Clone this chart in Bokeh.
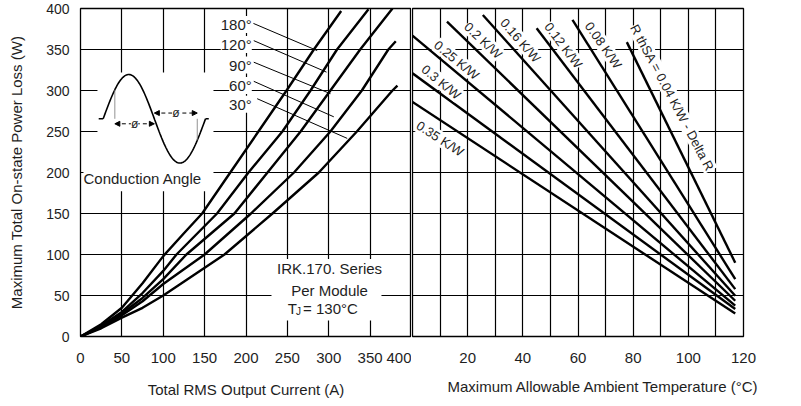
import numpy as np
from bokeh.plotting import figure
from bokeh.layouts import row
from bokeh.models import Range1d, FixedTicker, Label, Arrow, NormalHead, Title
from bokeh.embed import file_html
from bokeh.resources import INLINE

# ---------------- data: left panel (power loss vs RMS current) ----------------
current_ticks = [0, 50, 100, 150, 200, 250, 300, 350, 400]
power_ticks = [0, 50, 100, 150, 200, 250, 300, 350, 400]
angle_names = ["180°", "120°", "90°", "60°", "30°"]

I_180 = [0, 25, 50, 75, 100, 125, 147, 181, 215, 249, 282, 315]
P_180 = [0, 15, 35, 65, 98, 126, 150, 200, 250, 300, 350, 397]
I_120 = [0, 25, 50, 75, 100, 116, 165, 203, 244, 278, 310, 348]
P_120 = [0, 13, 30, 53, 80, 100, 150, 200, 250, 300, 350, 399]
I_90 = [0, 25, 50, 75, 100, 128, 186, 226, 266, 302, 338, 377]
P_90 = [0, 12, 28, 47, 70, 100, 150, 200, 250, 300, 350, 400]
I_60 = [0, 25, 50, 75, 100, 150, 206, 258, 302, 340, 372, 381]
P_60 = [0, 11, 26, 43, 64, 100, 150, 200, 250, 300, 350, 360]
I_30 = [0, 25, 50, 75, 100, 174, 232, 288, 334, 377, 383]
P_30 = [0, 10, 23, 35, 50, 100, 150, 200, 250, 300, 306]

# ---------------- data: right panel (power vs ambient temperature) ----------------
temp_ticks = [0, 20, 40, 60, 80, 100, 120]
rth_names = ["0.35 K/W", "0.3 K/W", "0.25 K/W", "0.2 K/W", "0.16 K/W",
             "0.12 K/W", "0.08 K/W", "R thSA = 0.04 K/W - Delta R"]
ta_start = [0, 0, 0, 12.5, 25.5, 45, 58, 77.7]
p_start = [286, 321, 367, 384, 392, 376, 386, 359]
ta_end = [117, 117, 117, 117, 117, 117, 117, 117]
p_end = [28, 33.5, 37.6, 43.6, 49.7, 57.8, 70, 90]

FONT = "Liberation Sans"
TXT = "#1e1e1e"
TOP, FH, BOT = 8, 328, 70


def style(p):
    p.outline_line_color = "black"
    p.outline_line_width = 1.3
    p.background_fill_color = "white"
    p.border_fill_color = "white"
    for g in p.xgrid + p.ygrid:
        g.grid_line_color = "black"
        g.grid_line_width = 1.2
        g.grid_line_alpha = 1.0
    for ax in p.xaxis + p.yaxis:
        ax.major_tick_line_color = None
        ax.minor_tick_line_color = None
        ax.axis_line_color = None
        ax.major_label_text_font = FONT
        ax.major_label_text_font_size = "15px"
        ax.major_label_text_color = TXT
        ax.axis_label_text_font = FONT
        ax.axis_label_text_font_size = "15px"
        ax.axis_label_text_font_style = "normal"
        ax.axis_label_text_color = TXT


# ================= left figure =================
left = figure(frame_width=331, frame_height=FH,
              x_range=Range1d(0, 400), y_range=Range1d(0, 400),
              output_backend="svg", toolbar_location=None,
              min_border_left=80, min_border_right=0,
              min_border_top=TOP, min_border_bottom=BOT)
left.xaxis.ticker = FixedTicker(ticks=current_ticks)
left.yaxis.ticker = FixedTicker(ticks=power_ticks)
left.xgrid.ticker = FixedTicker(ticks=current_ticks)
left.ygrid.ticker = FixedTicker(ticks=power_ticks)
style(left)
left.yaxis.major_label_text_font_size = "14px"
left.xaxis.axis_label = "Total RMS Output Current (A)"
left.yaxis.axis_label = "Maximum Total On-state Power Loss (W)"
left.xaxis.major_label_standoff = 10
left.xaxis.axis_label_standoff = 15
left.yaxis.major_label_standoff = 5
left.yaxis.axis_label_standoff = 18

# white backgrounds for inset and note box
left.quad(left=[20.5, 230.8], right=[160.7, 363.7], top=[322, 94.5], bottom=[177, 19.4],
          fill_color="white", line_color=None)

# curves
for xs, ys in [(I_180, P_180), (I_120, P_120), (I_90, P_90), (I_60, P_60), (I_30, P_30)]:
    left.line(xs, ys, line_color="black", line_width=2.4, line_join="round")

# leader lines for angle labels
left.segment(x0=[209, 209.4, 209.4, 209.4, 213.5], y0=[381.8, 360.8, 334.5, 311.2, 290],
             x1=[286, 297.3, 302.1, 306.1, 322.3], y1=[348.7, 322.4, 296.1, 267.9, 241.6],
             line_color="black", line_width=1)
for name, ly in zip(angle_names, [380.6, 356, 331, 306, 283.3]):
    left.add_layout(Label(x=207, y=ly, text=name, text_align="right", text_baseline="middle",
                          text_font=FONT, text_font_size="15px", text_color=TXT,
                          background_fill_color="white"))

# inset: conduction-angle waveform (schematic)
x0s, per, base, amp = 27.4, 123.7, 265.5, 54
xs = np.linspace(x0s, x0s + per, 120)
ys = base + amp * np.sin((xs - x0s) / per * 2 * np.pi)
left.line(xs, ys, line_color="black", line_width=1.6)
left.line([22, x0s], [base, base], line_color="black", line_width=1.6)
left.line([x0s + per, 155], [base, base], line_color="black", line_width=1.6)
fire1, fire2 = 41.5, 141.1
left.segment(x0=[fire1, fire2], y0=[base, base],
             x1=[fire1, fire2],
             y1=[base + amp * np.sin((fire1 - x0s) / per * 2 * np.pi),
                 base + amp * np.sin((fire2 - x0s) / per * 2 * np.pi)],
             line_color="#777777", line_width=0.8)
mid = x0s + per / 2
for (xa, xb, ya) in [(fire1, mid, 259.4), (mid, fire2, 272.5)]:
    left.add_layout(Arrow(start=NormalHead(size=5, fill_color="black", line_color="black"),
                          end=NormalHead(size=5, fill_color="black", line_color="black"),
                          x_start=xa, y_start=ya, x_end=xb, y_end=ya,
                          line_color="black", line_width=1, line_dash="4 3"))
    left.add_layout(Label(x=(xa + xb) / 2, y=ya, text="ø", text_align="center",
                          text_baseline="middle", text_font=FONT, text_font_size="12px",
                          text_color=TXT, background_fill_color="white"))
left.add_layout(Label(x=3.6, y=192.7, text="Conduction Angle", text_align="left",
                      text_baseline="middle", text_font=FONT, text_font_size="15px",
                      text_color=TXT, background_fill_color="white"))

# note box
for t, ly in [("IRK.170. Series", 82.4), ("Per Module", 55.8)]:
    left.add_layout(Label(x=301, y=ly, text=t, text_align="center", text_baseline="middle",
                          text_font=FONT, text_font_size="15px", text_color=TXT))
left.add_layout(Label(x=250.5, y=34, text="T", text_align="left", text_baseline="middle",
                      text_font=FONT, text_font_size="15px", text_color=TXT))
left.add_layout(Label(x=260.5, y=30, text="J", text_align="left", text_baseline="middle",
                      text_font=FONT, text_font_size="10px", text_color=TXT))
left.add_layout(Label(x=269, y=34, text="= 130°C", text_align="left", text_baseline="middle",
                      text_font=FONT, text_font_size="15px", text_color=TXT))

# ================= right figure =================
right = figure(frame_width=331, frame_height=FH,
               x_range=Range1d(0, 120), y_range=Range1d(0, 400),
               output_backend="svg", toolbar_location=None, y_axis_location=None,
               min_border_left=1, min_border_right=58,
               min_border_top=TOP, min_border_bottom=BOT)
minor_t = [t + 10 for t in temp_ticks[:-1]]
right.xaxis.ticker = FixedTicker(ticks=temp_ticks, minor_ticks=minor_t)
right.xgrid.ticker = FixedTicker(ticks=temp_ticks, minor_ticks=minor_t)
right.ygrid.ticker = FixedTicker(ticks=power_ticks)
style(right)
right.xgrid.minor_grid_line_color = "black"
right.xgrid.minor_grid_line_width = 1.2
right.xaxis.major_label_overrides = {0: ""}
right.xaxis.major_label_standoff = 10

right.segment(x0=ta_start, y0=p_start, x1=ta_end, y1=p_end,
              line_color="black", line_width=2.4)

lab_x = [10.0, 10.4, 16.0, 25.6, 39.1, 54.7, 69.2, 94.2]
lab_y = [241.2, 310.3, 337, 361, 361, 355, 355, 291]
lab_ang = [33, 39, 39, 43, 49, 53, 55, 62]
for name, lx, ly, a in zip(rth_names, lab_x, lab_y, lab_ang):
    right.add_layout(Label(x=lx, y=ly, text=name, angle=-np.deg2rad(a),
                           text_align="center", text_baseline="middle",
                           text_font=FONT, text_font_size="13px", text_color=TXT,
                           background_fill_color="white"))

right.add_layout(Title(text="Maximum Allowable Ambient Temperature (°C)", align="left",
                       offset=35, text_font=FONT, text_font_size="15px",
                       text_font_style="normal", text_color=TXT, standoff=20), "below")

layout = row(left, right)
open("out.html", "w").write(file_html(layout, INLINE))
